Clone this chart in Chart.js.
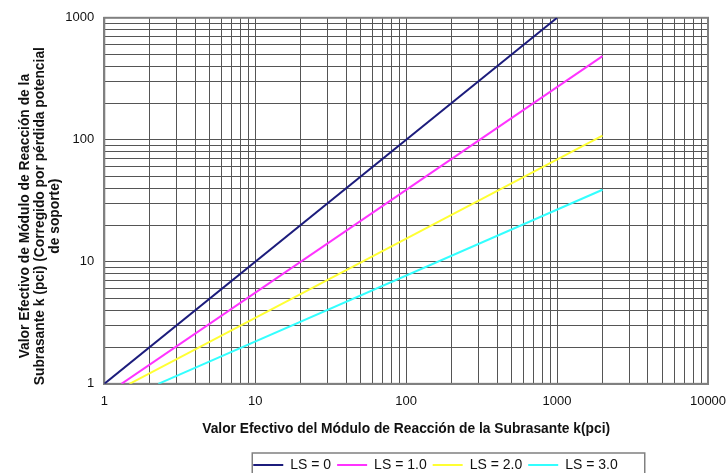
<!DOCTYPE html>
<html>
<head>
<meta charset="utf-8">
<script src="https://cdn.jsdelivr.net/npm/chart.js@4"></script>
<style>
  body { margin: 0; background: #ffffff; }
  #caja { width: 726px; height: 473px; }
</style>
</head>
<body>
<div id="caja"><canvas id="chart-modulo"></canvas></div>
<script>
const ctxModulo = document.getElementById("chart-modulo");

// valores (k efectivo vs k corregido)
const ls0X = [1, 1000];
const ls0Y = [1, 1000];
const ls1X = [1.3, 2000];
const ls1Y = [1, 485];
const ls2X = [1.47, 2000];
const ls2Y = [1, 108];
const ls3X = [2.28, 2000];
const ls3Y = [1, 39];

const nombresSeries = ["LS = 0", "LS = 1.0", "LS = 2.0", "LS = 3.0"];
const coresSeries = ["#1c1c7c", "#ff33ff", "#ffff33", "#33ffff"];

const decadasX = [1, 10, 100, 1000, 10000];
const decadasY = [1, 10, 100, 1000];

const tituloX = "Valor Efectivo del Módulo de Reacción de la Subrasante k(pci)";
const tituloY = [
  "Valor Efectivo de Módulo de Reacción de la",
  "Subrasante k (pci) (Corregido por pérdida potencial",
  "de soporte)"
];

const fuente = "'Liberation Sans', Arial, sans-serif";

function lineasGrid(decadas) {
  const valores = [];
  for (let d = 0; d < decadas.length - 1; d++) {
    for (let i = 1; i < 10; i++) {
      valores.push(decadas[d] * i);
    }
  }
  valores.push(decadas[decadas.length - 1]);
  return valores;
}

function puntos(xs, ys) {
  return xs.map((x, i) => ({ x: x, y: ys[i] }));
}

const gridX = lineasGrid(decadasX);
const gridY = lineasGrid(decadasY);

const datosSeries = [
  puntos(ls0X, ls0Y),
  puntos(ls1X, ls1Y),
  puntos(ls2X, ls2Y),
  puntos(ls3X, ls3Y)
];

// leyenda corrida a la derecha, con caja como en Excel, y marco del area
const cajaLeyenda = {
  id: "cajaLeyenda",
  afterLayout(chart) {
    chart.legend.left += 64;
    chart.legend.right += 64;
  },
  beforeDatasetsDraw(chart) {
    const a = chart.chartArea;
    const c = chart.ctx;
    c.save();
    c.strokeStyle = "#808080";
    c.lineWidth = 2;
    c.strokeRect(a.left, a.top, a.right - a.left, a.bottom - a.top);
    c.restore();
  },
  afterDraw(chart) {
    const l = chart.legend;
    const ancho = l.lineWidths[0];
    const inicio = (l.left + l.options.labels.padding + l.right - ancho) / 2;
    const c = chart.ctx;
    c.save();
    c.strokeStyle = "#808080";
    c.lineWidth = 1.5;
    c.strokeRect(inicio - 1, l.top + 1, ancho + 22, 30);
    c.restore();
  }
};

function escalaLog(min, max, grid, etiquetas, titulo, relleno) {
  return {
    type: "logarithmic",
    min: min,
    max: max,
    afterBuildTicks: (escala) => {
      escala.ticks = grid.map(v => ({ value: v }));
    },
    afterFit: (escala) => {
      if (escala.isHorizontal()) {
        escala.paddingRight = 18;
      }
    },
    ticks: {
      autoSkip: false,
      maxRotation: 0,
      color: "#111111",
      padding: relleno,
      font: { family: fuente, size: 13 },
      callback: (valor) => etiquetas.includes(valor) ? String(valor) : ""
    },
    grid: {
      color: "#555555",
      lineWidth: 1,
      drawTicks: false
    },
    border: { color: "#808080", width: 2 },
    title: titulo
  };
}

const chartModulo = new Chart(ctxModulo, {
  type: "line",
  data: {
    datasets: datosSeries.map((d, i) => ({
      label: nombresSeries[i],
      data: d,
      borderColor: coresSeries[i],
      backgroundColor: coresSeries[i],
      borderWidth: 2,
      pointRadius: 0,
      fill: false,
      tension: 0
    }))
  },
  options: {
    responsive: true,
    maintainAspectRatio: false,
    animation: false,
    layout: { padding: { top: 15, right: 0, left: 17, bottom: -9 } },
    plugins: {
      legend: {
        position: "bottom",
        labels: {
          usePointStyle: true,
          pointStyle: "line",
          pointStyleWidth: 30,
          color: "#111111",
          padding: 6,
          font: { family: fuente, size: 14 }
        }
      },
      tooltip: { enabled: false }
    },
    scales: {
      x: escalaLog(1, 10000, gridX, decadasX, {
        display: true,
        text: tituloX,
        color: "#111111",
        padding: { top: 1, bottom: 15 },
        font: { family: fuente, size: 13.8, weight: "bold" }
      }, 10),
      y: escalaLog(1, 1000, gridY, decadasY, {
        display: true,
        // espacios al final para bajar el bloque como en el original
        text: tituloY.map(t => t + "        "),
        color: "#111111",
        padding: { top: 0, bottom: -8 },
        font: { family: fuente, size: 13.8, weight: "bold", lineHeight: 1.12 }
      }, 10)
    }
  },
  plugins: [cajaLeyenda]
});
</script>
</body>
</html>
